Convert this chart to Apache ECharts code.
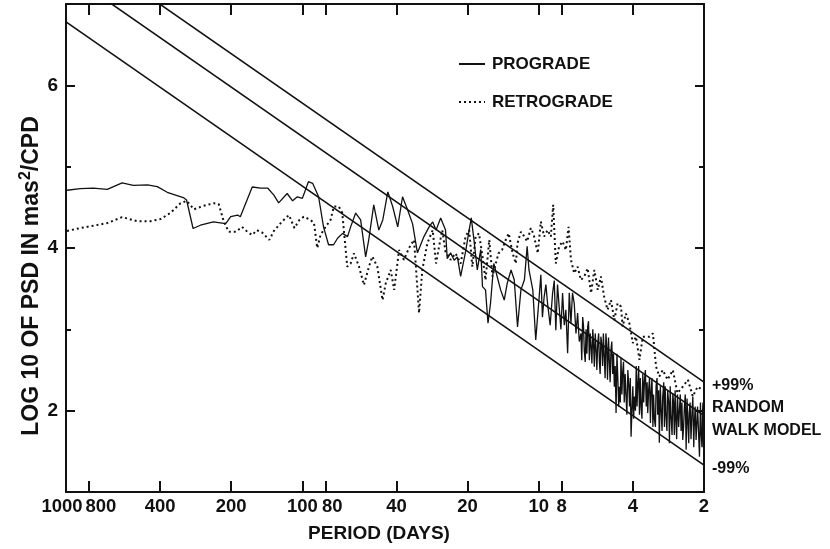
<!DOCTYPE html>
<html><head><meta charset="utf-8">
<script src="https://cdn.jsdelivr.net/npm/echarts@6/dist/echarts.min.js"></script>
<style>html,body{margin:0;padding:0;background:#fff}#c{width:830px;height:549px}</style>
</head><body><div id="c"></div>
<script>
// ---- data (period in days, log10 PSD) ----
const periodTicks = [1000, 800, 400, 200, 100, 80, 40, 20, 10, 8, 4, 2];
const yMajorTicks = [2, 4, 6];
const yMinorTicks = [3, 5];

const progradePeriod = [990,870,766,669,579,519,452,411,373,319,309,290,270,238,211,201,188,183,163,150,140,132,126,116,110,105,100,
 94.3,90.5,85.4,81.4,77.5,73.8,71.0,67.6,64.4,62.5,59.5,56.7,54.0,52.4,49.9,47.5,45.7,43.5,41.5,39.5,37.7,35.9,34.2,32.6,31.6,30.6,29.1,28.1,27.2,26.0,24.8,24.4,23.6,22.8,22.1,21.4,20.4,19.7,19.3,18.8,18.2,17.6,17.3,16.8,16.4,16.0,15.5,15.0,14.5,14.0,13.6,13.1,12.7,12.3,11.9,11.5,11.2,11.0,10.6,10.3,
 9.96,9.80,9.65,9.49,9.33,9.18,8.95,8.74,8.60,8.47,8.33,8.20,8.06,7.93,7.80,7.68,7.55,7.43,7.31,7.20,7.08,6.96,6.85,6.74,
 6.63,6.58,6.52,6.47,6.42,6.36,6.31,6.26,6.21,6.16,6.11,6.06,6.01,5.96,5.91,5.87,5.82,5.77,5.72,5.68,
 5.63,5.58,5.54,5.50,5.46,5.41,5.37,5.33,5.29,5.24,5.20,5.16,5.12,5.07,5.03,4.99,4.95,4.91,4.87,4.83,
 4.79,4.75,4.71,4.67,4.63,4.59,4.56,4.52,4.49,4.45,4.42,4.38,4.35,4.31,4.28,4.24,4.20,4.16,4.13,4.10,
 4.07,4.03,4.00,3.97,3.94,3.90,3.87,3.84,3.81,3.78,3.75,3.72,3.69,3.66,3.63,3.60,3.57,3.54,3.51,3.48,
 3.46,3.43,3.40,3.37,3.35,3.32,3.29,3.27,3.24,3.21,3.19,3.16,3.14,3.11,3.09,3.06,3.04,3.01,2.99,2.96,
 2.94,2.92,2.90,2.87,2.85,2.82,2.80,2.78,2.76,2.73,2.71,2.69,2.67,2.65,2.63,2.61,2.59,2.56,2.54,2.52,
 2.50,2.48,2.46,2.44,2.42,2.40,2.38,2.36,2.34,2.32,2.31,2.29,2.27,2.25,2.23,2.21,2.20,2.18,2.16,2.14,
 2.13,2.11,2.09,2.07,2.06,2.04,2.03,2.02,2.01,2.00];
const progradeValue = [4.71,4.73,4.735,4.72,4.80,4.77,4.775,4.755,4.685,4.62,4.59,4.24,4.28,4.32,4.30,4.385,4.405,4.385,4.75,4.735,4.735,4.65,4.555,4.67,4.58,4.63,4.61,
 4.815,4.795,4.63,4.26,4.04,4.04,4.12,4.18,4.14,4.26,4.43,4.345,3.89,4.10,4.53,4.22,4.345,4.69,4.51,4.26,4.63,4.47,4.30,3.94,4.04,4.14,4.26,4.32,4.22,4.37,4.22,3.87,3.94,3.85,3.89,3.65,3.955,4.22,4.37,4.10,3.73,3.98,3.525,3.485,3.075,3.32,3.81,3.65,3.485,3.36,3.565,3.73,3.61,3.03,3.485,3.61,4.02,3.73,3.485,2.87,
 3.40,3.67,3.15,3.40,3.55,3.32,3.05,3.445,3.60,2.99,3.55,3.28,3.0,3.445,3.05,3.24,2.705,3.45,3.075,3.45,3.32,2.95,3.20,2.85,
 2.95,2.62,3.15,3.05,2.745,2.60,3.0,2.70,3.035,3.10,2.62,2.95,2.79,2.58,3.0,2.85,2.54,2.95,2.75,2.50,
 2.83,2.95,2.6,2.45,2.91,2.80,2.55,2.95,2.705,2.40,2.95,2.80,2.38,2.90,2.62,2.35,2.745,2.85,2.45,2.70,
 2.295,2.55,1.97,2.70,2.40,2.05,2.295,2.10,2.65,2.20,2.46,2.60,2.10,2.45,2.215,1.95,2.50,2.30,2.05,2.40,
 1.68,2.05,2.30,1.90,2.175,2.00,2.55,2.05,2.335,2.55,1.95,2.40,2.05,1.90,2.45,2.10,2.38,2.50,2.05,2.35,
 1.97,2.25,2.40,1.85,2.215,2.40,1.80,2.20,1.885,1.80,2.30,2.40,1.95,2.25,1.605,2.30,2.05,1.75,2.175,2.35,
 1.80,2.30,1.97,1.75,2.25,2.10,1.60,2.30,1.95,1.70,2.215,2.10,1.70,2.25,1.885,1.65,2.20,1.80,2.01,2.20,
 1.75,2.10,1.64,1.80,2.05,2.20,1.52,2.15,1.85,1.60,1.97,2.10,1.65,1.95,2.175,1.55,1.80,2.05,1.64,1.90,
 2.05,1.75,1.435,2.10,1.75,1.55,1.97,2.10,1.55,2.175];

const retrogradePeriod = [990,870,764,671,579,500,440,399,362,328,309,298,288,261,237,226,215,205,191,180,171,163,156,148,138,132,122,114,108,103,
 98.7,92.3,89.3,86.5,83.8,79.8,76.0,73.6,70.1,67.8,64.6,62.5,60.5,57.6,54.9,52.3,50.6,48.2,45.8,44.4,42.3,40.9,39.0,37.2,35.4,33.7,33.1,32.1,31.1,29.6,28.1,27.2,26.4,25.6,24.8,23.6,22.5,21.4,20.4,19.7,19.1,18.5,17.9,17.3,16.8,16.2,15.7,15.2,14.8,14.3,13.8,13.4,12.9,12.5,12.3,11.9,11.5,11.2,10.8,10.5,10.1,
 9.80,9.49,9.18,8.89,8.69,8.47,8.20,7.93,7.68,7.48,7.31,7.08,6.85,6.63,6.42,6.21,6.01,5.82,5.63,5.46,5.29,5.12,4.95,4.79,4.64,4.49,4.42,4.28,4.14,4.00,3.88,3.75,3.63,3.51,3.40,3.29,3.19,3.09,2.99,2.85,2.71,2.59,2.46,2.34,2.23,2.13,2.03];
const retrogradeValue = [4.21,4.245,4.275,4.305,4.38,4.33,4.33,4.355,4.43,4.55,4.58,4.53,4.475,4.52,4.55,4.54,4.325,4.20,4.20,4.26,4.20,4.16,4.22,4.19,4.10,4.21,4.325,4.405,4.245,4.345,
 4.385,4.345,4.305,4.00,4.16,4.26,4.345,4.51,4.51,4.43,3.77,3.81,3.935,3.77,3.545,3.77,3.895,3.77,3.36,3.565,3.73,3.485,3.975,3.855,4.00,4.10,3.77,3.20,3.73,4.06,4.22,3.81,4.02,4.22,3.955,3.855,3.935,3.81,4.14,4.22,3.77,4.14,4.18,3.895,3.605,4.10,3.65,3.81,3.935,3.975,4.10,4.18,3.935,3.81,4.06,4.20,4.14,4.08,4.245,4.16,3.935,
 4.325,4.14,4.22,4.14,4.53,3.81,4.02,4.08,3.975,4.26,3.855,3.69,3.77,3.605,3.65,3.75,3.445,3.73,3.485,3.65,3.40,3.24,3.36,3.115,3.32,3.28,3.035,3.195,3.075,2.83,2.91,2.625,2.91,2.91,2.91,2.95,2.54,2.42,2.50,2.38,2.50,2.215,2.295,2.38,2.175,2.295,2.255];

// random walk model: fitted line and +/-99% limits, at the two ends of the period range
const modelPeriod = [1000, 2];
const modelLower = [6.78, 1.33];
const modelCentre = [7.39, 1.94];
const modelUpper = [7.80, 2.35];

// ---- chart ----
const FONT = "'Liberation Sans',Arial,sans-serif";
const INK = '#111';
const lg = p => Math.log10(p);
const pairs = (ps, vs) => ps.map((p, i) => [lg(p), vs[i]]);
const tickPos = periodTicks.map(lg);
const txt = (size) => ({color: INK, fontFamily: FONT, fontSize: size, fontWeight: 'bold'});

function periodLabel(v) {
  const p = Math.round(Math.pow(10, v));
  if (p === 1000) return '{l|1000}';
  if (p === 800) return '{r|800}';
  if (p === 80) return '{r2|80}';
  return String(p);
}

const xBase = {
  type: 'value', min: lg(2), max: lg(1000), inverse: true,
  splitLine: {show: false},
  axisLine: {show: true, onZero: false, lineStyle: {color: INK, width: 2}},
  axisTick: {show: true, inside: true, length: 11, customValues: tickPos, lineStyle: {color: INK, width: 2}}
};
const yBase = {
  type: 'value', min: 1, max: 7, splitLine: {show: false},
  axisLine: {show: true, onZero: false, lineStyle: {color: INK, width: 2}},
  axisLabel: {show: false}
};

const modelLine = (vals, label, extra) => ({
  type: 'line', data: pairs(modelPeriod, vals), symbol: 'none', silent: true, clip: true,
  lineStyle: {color: INK, width: 1.6},
  endLabel: Object.assign({show: true, formatter: label, distance: -8, align: 'left', verticalAlign: 'middle', offset: [0, 3]}, txt(16), extra || {})
});

const option = {
  animation: false,
  backgroundColor: '#fff',
  grid: {left: 66, right: 126, top: 4, bottom: 57},
  legend: {
    data: ['PROGRADE', 'RETROGRADE'],
    orient: 'vertical', left: 453, top: 48,
    itemWidth: 26, itemHeight: 14, itemGap: 16,
    itemStyle: {opacity: 0},
    textStyle: Object.assign({lineHeight: 22, padding: [0, 0, 0, 2]}, txt(17))
  },
  xAxis: [
    Object.assign({}, xBase, {
      position: 'bottom',
      axisLabel: Object.assign({
        customValues: tickPos, formatter: periodLabel, margin: 5,
        showMinLabel: true, showMaxLabel: true, hideOverlap: false,
        rich: {
          l: Object.assign({padding: [0, 8, 0, 0]}, txt(18.5)),
          r: Object.assign({padding: [0, 0, 0, 24]}, txt(18.5)),
          r2: Object.assign({padding: [0, 0, 0, 14]}, txt(18.5))
        }
      }, txt(18.5)),
      name: 'PERIOD (DAYS)', nameLocation: 'middle', nameGap: 32,
      nameTextStyle: Object.assign({padding: [0, 12, 0, 0]}, txt(19))
    }),
    Object.assign({}, xBase, {position: 'top', axisLabel: {show: false}})
  ],
  yAxis: [
    Object.assign({}, yBase, {
      position: 'left',
      axisTick: {show: true, inside: true, length: 9, customValues: yMajorTicks, lineStyle: {color: INK, width: 2}},
      axisLabel: Object.assign({show: true, customValues: yMajorTicks, margin: 8}, txt(19))
    }),
    Object.assign({}, yBase, {
      position: 'left', axisLine: {show: false},
      axisTick: {show: true, inside: true, length: 5, customValues: yMinorTicks, lineStyle: {color: INK, width: 2}}
    }),
    Object.assign({}, yBase, {
      position: 'right',
      axisTick: {show: true, inside: true, length: 9, customValues: yMajorTicks, lineStyle: {color: INK, width: 2}}
    }),
    Object.assign({}, yBase, {
      position: 'right', axisLine: {show: false},
      axisTick: {show: true, inside: true, length: 5, customValues: yMinorTicks, lineStyle: {color: INK, width: 2}}
    })
  ],
  graphic: [{
    type: 'text', x: 32, y: 276, rotation: Math.PI / 2,
    style: {
      text: '{b|LOG 10 OF PSD IN mas}{s|2}{b|/CPD}',
      align: 'center', verticalAlign: 'middle',
      rich: {
        b: {fill: INK, fontFamily: FONT, fontSize: 23, fontWeight: 'bold', lineHeight: 28},
        s: {fill: INK, fontFamily: FONT, fontSize: 16, fontWeight: 'bold', verticalAlign: 'top', lineHeight: 28, padding: [0, 0, 10, 0]}
      }
    }
  }],
  series: [
    {name: 'PROGRADE', type: 'line', data: pairs(progradePeriod, progradeValue), symbol: 'none',
     lineStyle: {color: INK, width: 1.3}, itemStyle: {color: INK}},
    {name: 'RETROGRADE', type: 'line', data: pairs(retrogradePeriod, retrogradeValue), symbol: 'none',
     lineStyle: {color: INK, width: 2, type: [2, 3]}, itemStyle: {color: INK}},
    modelLine(modelUpper, '+99%'),
    modelLine(modelCentre, 'RANDOM\nWALK MODEL', {lineHeight: 23, offset: [0, 4]}),
    modelLine(modelLower, '-99%')
  ]
};

const chart = echarts.init(document.getElementById('c'));
chart.setOption(option);
</script>
</body></html>
